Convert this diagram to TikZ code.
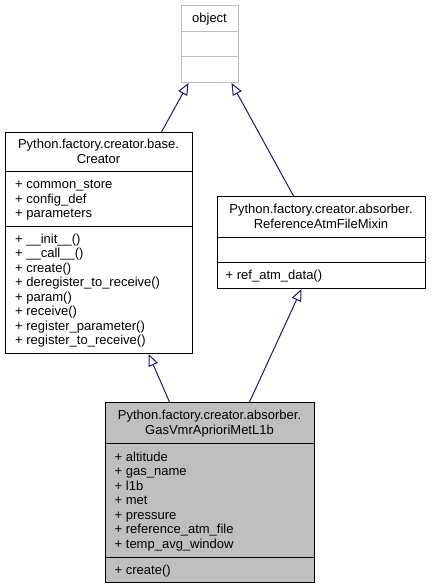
\documentclass[tikz,border=0pt]{standalone}
\usepackage{fontspec}
\setmainfont{Liberation Sans}
\usetikzlibrary{arrows.meta}
\definecolor{edgeblue}{HTML}{191970}
\definecolor{greyss}{HTML}{BFBFBF}
\begin{document}
\begin{tikzpicture}[x=1pt,y=-1pt,
  box/.style={draw=black, line width=1pt, inner sep=0pt, anchor=north west},
  mtext/.style={inner sep=0pt, font=\fontsize{13}{14.5}\selectfont},
  mleft/.style={mtext, anchor=base west},
  mcent/.style={mtext, anchor=base},
  divider/.style={line width=1pt},
  inh/.style={draw=edgeblue, line width=1pt, -{Triangle[open, length=12pt, width=10pt, fill=white]}}]
\useasboundingbox (0,0) rectangle (431,588);

% object
\node[box, draw=greyss, minimum width=57pt, minimum height=77pt] (object) at (181,5) {};
\draw[divider, greyss] (181,32) -- (238,32);
\draw[divider, greyss] (181,57) -- (238,57);
\node[mcent] (objt) at (209.5,23) {object};

% Creator
\node[box, minimum width=187pt, minimum height=221pt] (creator) at (5,132) {};
\draw[divider] (5,171) -- (192,171);
\draw[divider] (5,226) -- (192,226);
\node[mcent] (ct1) at (98.5,148.75) {Python.factory.creator.base.};
\node[mcent] (ct2) at (98.5,163.25) {Creator};
\node[mleft] (ca1) at (15,188.5) {+ common\_store};
\node[mleft] (ca2) at (15,203) {+ config\_def};
\node[mleft] (ca3) at (15,217.5) {+ parameters};
\node[mleft] (cm1) at (15,243.25) {+ \_\_init\_\_()};
\node[mleft] (cm2) at (15,257.75) {+ \_\_call\_\_()};
\node[mleft] (cm3) at (15,272.25) {+ create()};
\node[mleft] (cm4) at (15,286.75) {+ deregister\_to\_receive()};
\node[mleft] (cm5) at (15,301.25) {+ param()};
\node[mleft] (cm6) at (15,315.75) {+ receive()};
\node[mleft] (cm7) at (15,330.25) {+ register\_parameter()};
\node[mleft] (cm8) at (15,344.75) {+ register\_to\_receive()};

% ReferenceAtmFileMixin
\node[box, minimum width=208pt, minimum height=92pt] (reference) at (217,196) {};
\draw[divider] (217,237) -- (425,237);
\draw[divider] (217,262) -- (425,262);
\node[mcent] (rt1) at (321,213.75) {Python.factory.creator.absorber.};
\node[mcent] (rt2) at (321,228.25) {ReferenceAtmFileMixin};
\node[mleft] (rm1) at (225.5,279.5) {+ ref\_atm\_data()};

% GasVmrAprioriMetL1b
\node[box, fill=greyss, minimum width=209pt, minimum height=180pt] (gas) at (105,402) {};
\draw[divider] (105,443) -- (314,443);
\draw[divider] (105,557) -- (314,557);
\node[mcent] (gt1) at (209.5,419.75) {Python.factory.creator.absorber.};
\node[mcent] (gt2) at (209.5,434.25) {GasVmrAprioriMetL1b};
\node[mleft] (ga1) at (114.5,461) {+ altitude};
\node[mleft] (ga2) at (114.5,475.5) {+ gas\_name};
\node[mleft] (ga3) at (114.5,490) {+ l1b};
\node[mleft] (ga4) at (114.5,504.5) {+ met};
\node[mleft] (ga5) at (114.5,519) {+ pressure};
\node[mleft] (ga6) at (114.5,533.5) {+ reference\_atm\_file};
\node[mleft] (ga7) at (114.5,548) {+ temp\_avg\_window};
\node[mleft] (gm1) at (114.5,574) {+ create()};

% inheritance arrows
\draw[inh] ([xshift=62.5pt]creator.north) -- ([xshift=-21.5pt]object.south);
\draw[inh] ([xshift=-28pt]reference.north) -- ([xshift=21.5pt]object.south);
\draw[inh] ([xshift=-40.5pt]gas.north) -- ([xshift=49.5pt]creator.south);
\draw[inh] ([xshift=39.5pt]gas.north) -- ([xshift=-20pt]reference.south);
\end{tikzpicture}
\end{document}
